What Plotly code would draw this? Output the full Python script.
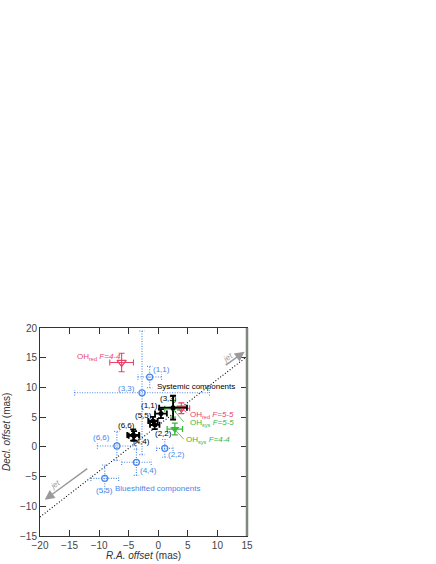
import plotly.graph_objects as go

# ---------------- data ----------------
blue_names = ["(1,1)", "(3,3)", "(6,6)", "(4,4)", "(2,2)", "(5,5)"]
blue_x = [-1.45, -2.75, -7.0, -3.7, 1.1, -9.05]
blue_y = [11.75, 9.1, 0.15, -2.6, -0.25, -5.3]
blue_ex = [2.0, 11.4, 3.3, 2.5, 1.4, 2.35]
blue_ey = [1.8, 10.4, 2.45, 2.2, 1.5, 2.25]
blue_lab_x = [0.6, -5.4, -9.6, -1.7, 3.1, -9.05]
blue_lab_y = [13.1, 9.9, 1.6, -3.9, -1.35, -7.4]

black_names = ["(1,1)", "(2,2)", "(3,3)", "(4,4)", "(5,5)", "(6,6)"]
black_x = [0.45, -0.6, 2.5, -4.1, -0.9, -4.25]
black_y = [5.6, 3.7, 6.6, 1.85, 4.35, 2.0]
black_ex = [1.0, 0.8, 2.35, 0.9, 0.8, 1.0]
black_ey = [0.75, 0.7, 2.0, 0.8, 0.7, 0.95]
black_lab_x = [-1.44, 0.8, 1.66, -2.85, -2.45, -5.4]
black_lab_y = [7.0, 2.3, 8.2, 0.9, 5.2, 3.6]

red_names = ["F=4-4", "F=5-5"]
red_x = [-6.2, 3.9]
red_y = [14.2, 6.5]
red_ex = [2.0, 1.4]
red_ey = [1.55, 0.9]

green_names = ["F=5-5", "F=4-4"]
green_x = [2.5, 2.8]
green_y = [6.4, 3.0]
green_ex = [1.4, 1.3]
green_ey = [1.4, 1.0]

jet_line_x = [-20, 15]
jet_line_y = [-11.8, 15.2]

BLUE = "#4a86e8"
RED = "#e8436a"
GREEN = "#3db63d"
GRAY = "#9a9a9a"
FONT = "Liberation Sans, Arial, sans-serif"

fig = go.Figure()

# jet axis dotted line
fig.add_trace(go.Scatter(x=jet_line_x, y=jet_line_y, mode="lines",
                         line=dict(color="black", width=1.1, dash="1px,2px"),
                         hoverinfo="skip", showlegend=False))

# blue dotted error bars (built from data)
cap = 0.45
ex_x, ex_y = [], []
for x, y, dx, dy in zip(blue_x, blue_y, blue_ex, blue_ey):
    ex_x += [x - dx, x + dx, None, x, x, None,
             x - dx, x - dx, None, x + dx, x + dx, None,
             x - cap, x + cap, None, x - cap, x + cap, None]
    ex_y += [y, y, None, y - dy, y + dy, None,
             y - cap, y + cap, None, y - cap, y + cap, None,
             y - dy, y - dy, None, y + dy, y + dy, None]
fig.add_trace(go.Scatter(x=ex_x, y=ex_y, mode="lines",
                         line=dict(color=BLUE, width=1.1, dash="1px,1.5px"),
                         hoverinfo="skip", showlegend=False))
fig.add_trace(go.Scatter(x=blue_x, y=blue_y, mode="markers",
                         marker=dict(symbol="circle-open", size=6, color=BLUE,
                                     line=dict(width=1.3, color=BLUE)),
                         showlegend=False))

# red
fig.add_trace(go.Scatter(x=red_x, y=red_y, mode="markers",
                         error_x=dict(type="data", array=red_ex, color=RED, thickness=1.1, width=3),
                         error_y=dict(type="data", array=red_ey, color=RED, thickness=1.1, width=3),
                         marker=dict(symbol="triangle-down-open", size=8, color=RED,
                                     line=dict(width=1.3, color=RED)),
                         showlegend=False))

# green
fig.add_trace(go.Scatter(x=green_x, y=green_y, mode="markers",
                         error_x=dict(type="data", array=green_ex, color=GREEN, thickness=1.3, width=3),
                         error_y=dict(type="data", array=green_ey, color=GREEN, thickness=1.3, width=3),
                         marker=dict(symbol="triangle-down", size=8, color=GREEN),
                         showlegend=False))

# black systemic
fig.add_trace(go.Scatter(x=black_x, y=black_y, mode="markers",
                         error_x=dict(type="data", array=black_ex, color="black", thickness=1.8, width=3),
                         error_y=dict(type="data", array=black_ey, color="black", thickness=1.8, width=3),
                         marker=dict(symbol="circle", size=5, color="black"),
                         showlegend=False))

ann = []
for n, x, y in zip(blue_names, blue_lab_x, blue_lab_y):
    ann.append(dict(x=x, y=y, text=n, showarrow=False,
                    font=dict(family=FONT, size=8, color=BLUE)))
for n, x, y in zip(black_names, black_lab_x, black_lab_y):
    ann.append(dict(x=x, y=y, text=n, showarrow=False,
                    font=dict(family=FONT, size=8, color="black")))

# component labels
ann.append(dict(x=6.35, y=10.1, text="Systemic components", showarrow=False,
                font=dict(family=FONT, size=8, color="black")))
ann.append(dict(x=-7.6, y=-7.0, xanchor="left", text="Blueshifted components", showarrow=False,
                font=dict(family=FONT, size=8, color=BLUE)))

# OH labels
ann.append(dict(x=-14.0, y=15.2, xanchor="left", showarrow=False,
                text="OH<sub>red</sub> <i>F=4-4</i>",
                font=dict(family=FONT, size=8, color=RED)))
ann.append(dict(x=5.0, y=5.4, xanchor="left", showarrow=False,
                text="OH<sub>red</sub> <i>F=5-5</i>",
                font=dict(family=FONT, size=8, color=RED)))
ann.append(dict(x=5.0, y=4.0, xanchor="left", showarrow=False,
                text="OH<sub>sys</sub> <i>F=5-5</i>",
                font=dict(family=FONT, size=8, color=GREEN)))
ann.append(dict(x=4.3, y=1.2, xanchor="left", showarrow=False,
                text="OH<sub>sys</sub> <i>F=4-4</i>",
                font=dict(family=FONT, size=8, color=GREEN)))

# jet arrows
ann.append(dict(x=14.6, y=16.0, ax=10.9, ay=13.4, axref="x", ayref="y",
                showarrow=True, arrowhead=2, arrowsize=1.3, arrowwidth=1.5,
                arrowcolor=GRAY, text=" "))
ann.append(dict(x=-19.2, y=-8.9, ax=-11.5, ay=-3.3, axref="x", ayref="y",
                showarrow=True, arrowhead=2, arrowsize=1.3, arrowwidth=1.5,
                arrowcolor=GRAY, text=" "))
ann.append(dict(x=11.8, y=15.0, text="<i>jet</i>", showarrow=False, textangle=-36,
                font=dict(family=FONT, size=8, color=GRAY)))
ann.append(dict(x=-17.4, y=-6.3, text="<i>jet</i>", showarrow=False, textangle=-36,
                font=dict(family=FONT, size=8, color=GRAY)))

# axis titles
ann.append(dict(xref="paper", yref="paper", x=0.5, y=0, yshift=-19, yanchor="middle",
                text="<i>R.A. offset</i> (mas)", showarrow=False,
                font=dict(family=FONT, size=10, color="#333")))
ann.append(dict(xref="paper", yref="paper", x=0, y=0.5, xshift=-34, xanchor="center",
                text="<i>Decl. offset</i> (mas)", showarrow=False, textangle=-90,
                font=dict(family=FONT, size=10, color="#333")))

shapes = []
# leader lines
leader_x0 = [3.9, 2.6, 2.9]
leader_y0 = [6.5, 6.2, 2.8]
leader_x1 = [4.8, 4.3, 4.3]
leader_y1 = [5.8, 4.2, 1.3]
leader_c = [RED, GREEN, GREEN]
for x0, y0, x1, y1, c in zip(leader_x0, leader_y0, leader_x1, leader_y1, leader_c):
    shapes.append(dict(type="line", x0=x0, y0=y0, x1=x1, y1=y1,
                       line=dict(color=c, width=0.8)))
# grey right border
shapes.append(dict(type="line", xref="paper", yref="paper", x0=1, x1=1, y0=0, y1=1,
                   line=dict(color="#7f877f", width=2.5)))

axis_common = dict(showline=True, linecolor="#333", linewidth=1, mirror="allticks",
                   ticks="inside", ticklen=6, tickcolor="#333", dtick=5,
                   showgrid=False, zeroline=False,
                   tickfont=dict(family=FONT, size=10, color="#444"))

fig.update_layout(
    width=436, height=564,
    margin=dict(l=40, r=189, t=328, b=28),
    paper_bgcolor="white", plot_bgcolor="white",
    xaxis=dict(range=[-20, 15], tick0=-20, **axis_common),
    yaxis=dict(range=[-15, 20], tick0=-15, **axis_common),
    annotations=ann, shapes=shapes, showlegend=False,
)

fig.write_html("out.html", config={"displayModeBar": False},
               post_script="document.body.style.margin='0px';")
